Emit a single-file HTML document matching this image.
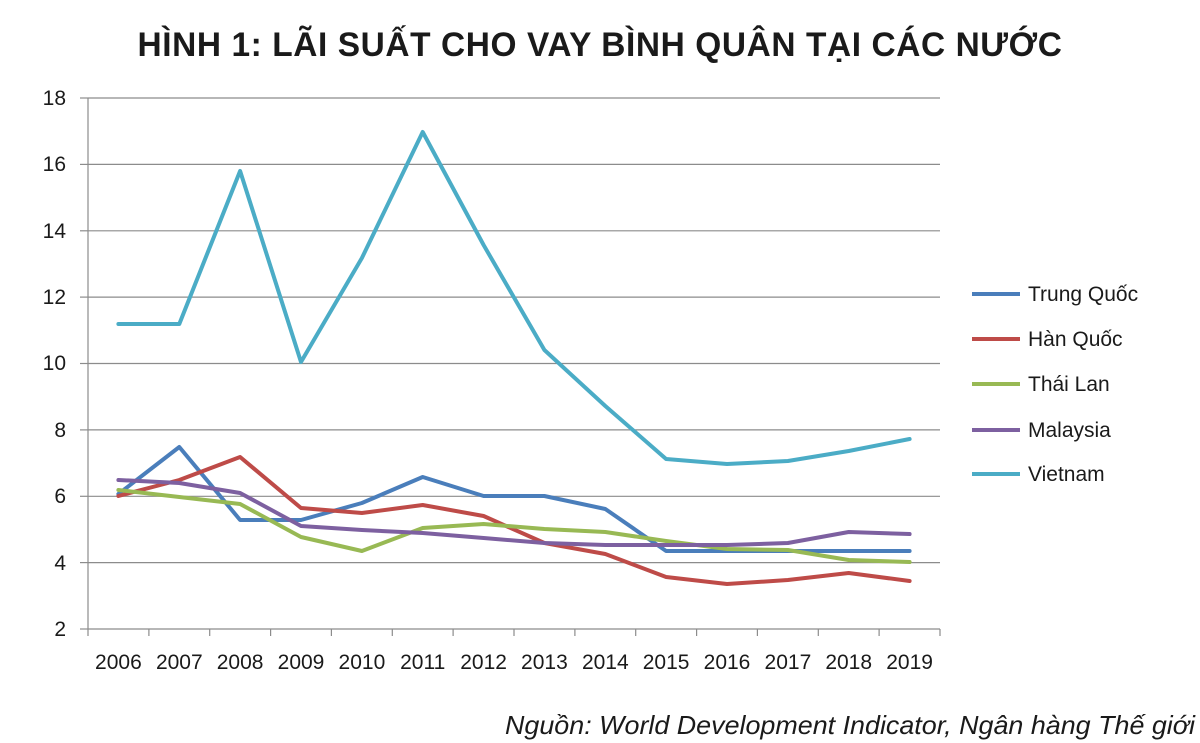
<!DOCTYPE html>
<html><head><meta charset="utf-8"><style>
html,body{margin:0;padding:0;background:#fff;}
svg{display:block}
</style></head><body>
<svg width="1200" height="743" viewBox="0 0 1200 743" xmlns="http://www.w3.org/2000/svg" font-family="Liberation Sans, DejaVu Sans, sans-serif">
<text x="600" y="56" text-anchor="middle" font-size="34" font-weight="bold" fill="#1a1a1a" letter-spacing="0.6" textLength="925" lengthAdjust="spacingAndGlyphs">HÌNH 1: LÃI SUẤT CHO VAY BÌNH QUÂN TẠI CÁC NƯỚC</text>
<g stroke="#8c8c8c" stroke-width="1.2">
<line x1="88" y1="98" x2="940" y2="98"/>
<line x1="88" y1="164.4" x2="940" y2="164.4"/>
<line x1="88" y1="230.8" x2="940" y2="230.8"/>
<line x1="88" y1="297.1" x2="940" y2="297.1"/>
<line x1="88" y1="363.5" x2="940" y2="363.5"/>
<line x1="88" y1="429.9" x2="940" y2="429.9"/>
<line x1="88" y1="496.3" x2="940" y2="496.3"/>
<line x1="88" y1="562.6" x2="940" y2="562.6"/>
<line x1="88" y1="629" x2="940" y2="629"/>
<line x1="88" y1="98" x2="88" y2="629"/>
<line x1="80" y1="98" x2="88" y2="98"/><line x1="80" y1="164.4" x2="88" y2="164.4"/><line x1="80" y1="230.8" x2="88" y2="230.8"/><line x1="80" y1="297.1" x2="88" y2="297.1"/><line x1="80" y1="363.5" x2="88" y2="363.5"/><line x1="80" y1="429.9" x2="88" y2="429.9"/><line x1="80" y1="496.3" x2="88" y2="496.3"/><line x1="80" y1="562.6" x2="88" y2="562.6"/><line x1="80" y1="629" x2="88" y2="629"/>
<line x1="88" y1="629" x2="88" y2="636"/><line x1="148.9" y1="629" x2="148.9" y2="636"/><line x1="209.7" y1="629" x2="209.7" y2="636"/><line x1="270.6" y1="629" x2="270.6" y2="636"/><line x1="331.4" y1="629" x2="331.4" y2="636"/><line x1="392.3" y1="629" x2="392.3" y2="636"/><line x1="453.1" y1="629" x2="453.1" y2="636"/><line x1="514" y1="629" x2="514" y2="636"/><line x1="574.9" y1="629" x2="574.9" y2="636"/><line x1="635.7" y1="629" x2="635.7" y2="636"/><line x1="696.6" y1="629" x2="696.6" y2="636"/><line x1="757.4" y1="629" x2="757.4" y2="636"/><line x1="818.3" y1="629" x2="818.3" y2="636"/><line x1="879.1" y1="629" x2="879.1" y2="636"/><line x1="940" y1="629" x2="940" y2="636"/>
</g>
<g font-size="21" fill="#1a1a1a" text-anchor="end">
<text x="66" y="105">18</text><text x="66" y="171">16</text><text x="66" y="238">14</text><text x="66" y="304">12</text><text x="66" y="370">10</text><text x="66" y="437">8</text><text x="66" y="503">6</text><text x="66" y="570">4</text><text x="66" y="636">2</text>
</g>
<g font-size="21" fill="#1a1a1a" text-anchor="middle">
<text x="118.4" y="669">2006</text><text x="179.3" y="669">2007</text><text x="240.1" y="669">2008</text><text x="301" y="669">2009</text><text x="361.9" y="669">2010</text><text x="422.7" y="669">2011</text><text x="483.6" y="669">2012</text><text x="544.4" y="669">2013</text><text x="605.3" y="669">2014</text><text x="666.1" y="669">2015</text><text x="727" y="669">2016</text><text x="787.9" y="669">2017</text><text x="848.7" y="669">2018</text><text x="909.6" y="669">2019</text>
</g>
<g fill="none" stroke-width="4" stroke-linejoin="round" stroke-linecap="round">
<polyline stroke="#4A7EBB" points="118.4,494 179.3,447 240.1,520 301,520 361.9,503 422.7,477 483.6,496 544.4,496 605.3,509 666.1,551 727,551 787.9,551 848.7,551 909.6,551"/>
<polyline stroke="#BE4B48" points="118.4,496 179.3,480 240.1,457 301,508 361.9,513 422.7,505 483.6,516 544.4,543 605.3,554 666.1,577 727,584 787.9,580 848.7,573 909.6,581"/>
<polyline stroke="#98B954" points="118.4,490 179.3,497 240.1,504 301,537 361.9,551 422.7,528 483.6,524 544.4,529 605.3,532 666.1,541 727,549 787.9,550 848.7,560 909.6,562"/>
<polyline stroke="#7D60A0" points="118.4,480 179.3,483 240.1,493 301,526 361.9,530 422.7,533 483.6,538 544.4,543 605.3,545 666.1,545 727,545 787.9,543 848.7,532 909.6,534"/>
<polyline stroke="#4BACC6" points="118.4,324 179.3,324 240.1,171 301,362 361.9,258 422.7,132 483.6,245 544.4,350 605.3,406 666.1,459 727,464 787.9,461 848.7,451 909.6,439"/>
</g>
<g stroke-width="4">
<line x1="972" y1="294" x2="1020" y2="294" stroke="#4A7EBB"/>
<line x1="972" y1="339" x2="1020" y2="339" stroke="#BE4B48"/>
<line x1="972" y1="384" x2="1020" y2="384" stroke="#98B954"/>
<line x1="972" y1="430" x2="1020" y2="430" stroke="#7D60A0"/>
<line x1="972" y1="474" x2="1020" y2="474" stroke="#4BACC6"/>
</g>
<g font-size="21" fill="#1a1a1a">
<text x="1028" y="301">Trung Quốc</text>
<text x="1028" y="346">Hàn Quốc</text>
<text x="1028" y="391">Thái Lan</text>
<text x="1028" y="437">Malaysia</text>
<text x="1028" y="481">Vietnam</text>
</g>
<text x="1195" y="734" text-anchor="end" font-size="26" font-style="italic" fill="#1a1a1a" textLength="690" lengthAdjust="spacingAndGlyphs">Nguồn: World Development Indicator, Ngân hàng Thế giới</text>
</svg>
</body></html>
